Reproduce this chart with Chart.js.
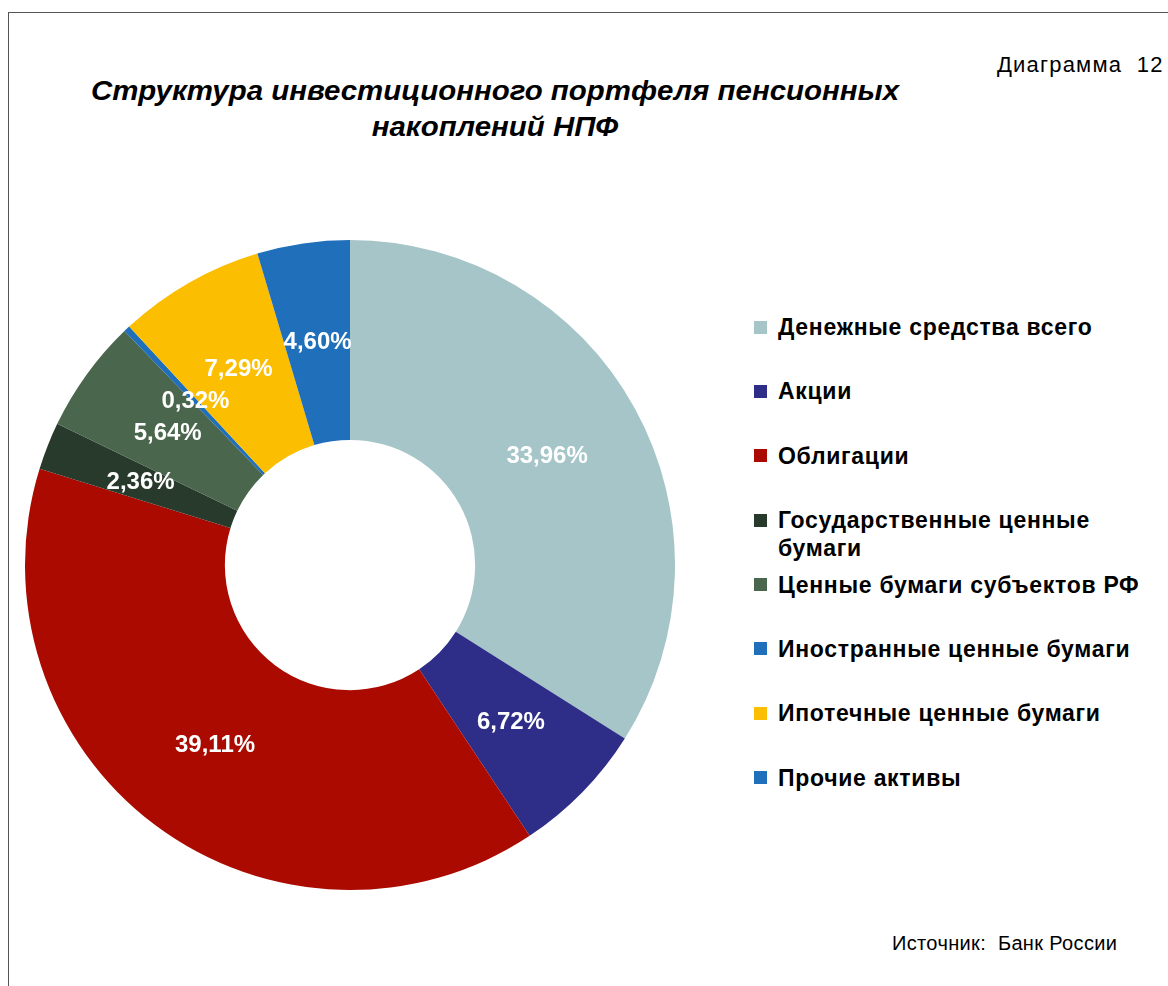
<!DOCTYPE html>
<html lang="ru">
<head>
<meta charset="utf-8">
<script src="https://cdn.jsdelivr.net/npm/chart.js@4/dist/chart.umd.min.js"></script>
<style>
  html, body { margin: 0; padding: 0; background: #fff; }
  body { width: 1168px; height: 986px; position: relative; overflow: hidden; font-family: "Liberation Sans", Arial, sans-serif; }
  #frame { position: absolute; left: 8px; top: 12px; right: -2px; bottom: -2px; border-top: 1px solid #555; border-left: 1px solid #555; }
  #title { position: absolute; left: 45px; width: 900px; top: 73px; text-align: center; font-size: 27px; font-weight: bold; font-style: italic; line-height: 36px; color: #000; transform: scaleX(1.09); transform-origin: 450px 0; }
  #num { position: absolute; left: 997px; top: 52px; font-size: 22px; letter-spacing: 1.2px; color: #000; white-space: pre; }
  #src { position: absolute; left: 892px; top: 932px; font-size: 20px; letter-spacing: 0.35px; color: #000; white-space: pre; }
  #wrap { position: absolute; left: 25px; top: 240px; width: 650px; height: 650px; }
  #legend { position: absolute; left: 754px; top: 313px; }
  .item { position: relative; height: 64.4px; }
  .box { position: absolute; left: 0; top: 7.5px; width: 13px; height: 13px; }
  .txt { position: absolute; left: 24px; top: 0; width: 400px; font-size: 23px; font-weight: bold; letter-spacing: 0.7px; line-height: 28px; color: #000; }
</style>
</head>
<body>
<div id="frame"></div>
<div id="title">Структура инвестиционного портфеля пенсионных<br>накоплений НПФ</div>
<div id="num">Диаграмма  12</div>
<div id="src">Источник:  Банк России</div>
<div id="wrap"><canvas id="chart"></canvas></div>
<div id="legend"></div>

<script>
"use strict";

// данные диаграммы
const labels = [
  "Денежные средства всего",
  "Акции",
  "Облигации",
  "Государственные ценные бумаги",
  "Ценные бумаги субъектов РФ",
  "Иностранные ценные бумаги",
  "Ипотечные ценные бумаги",
  "Прочие активы"
];
const legendText = [
  "Денежные средства всего",
  "Акции",
  "Облигации",
  "Государственные ценные<br>бумаги",
  "Ценные бумаги субъектов РФ",
  "Иностранные ценные бумаги",
  "Ипотечные ценные бумаги",
  "Прочие активы"
];
const shares = [33.96, 6.72, 39.11, 2.36, 5.64, 0.32, 7.29, 4.60];
const colors = ["#a6c5c8", "#2e2e88", "#aa0a00", "#283a2b", "#4a664c", "#1f6fba", "#fbbe00", "#1f6fba"];

// легенда справа
const legend = document.getElementById("legend");
labels.forEach(function (name, i) {
  const item = document.createElement("div");
  item.className = "item";
  item.innerHTML = '<div class="box" style="background:' + colors[i] + '"></div>' +
                   '<div class="txt">' + legendText[i] + '</div>';
  legend.appendChild(item);
});

// подписи процентов на секторах
const pctLabels = {
  id: "pctLabels",
  afterDatasetsDraw: function (chart) {
    const ctx = chart.ctx;
    const meta = chart.getDatasetMeta(0);
    ctx.save();
    ctx.fillStyle = "#fff";
    ctx.font = "bold 24px 'Liberation Sans', Arial, sans-serif";
    ctx.textAlign = "center";
    ctx.textBaseline = "middle";
    meta.data.forEach(function (arc, i) {
      const p = arc.tooltipPosition();
      const s = shares[i].toFixed(2).replace(".", ",") + "%";
      ctx.fillText(s, p.x, p.y);
    });
    ctx.restore();
  }
};

new Chart(document.getElementById("chart"), {
  type: "doughnut",
  data: {
    labels: labels,
    datasets: [{
      data: shares,
      backgroundColor: colors,
      borderWidth: 0
    }]
  },
  options: {
    responsive: true,
    maintainAspectRatio: false,
    animation: false,
    cutout: "38.5%",
    layout: { padding: 0 },
    plugins: {
      legend: { display: false },
      tooltip: { enabled: false }
    }
  },
  plugins: [pctLabels]
});
</script>
</body>
</html>
